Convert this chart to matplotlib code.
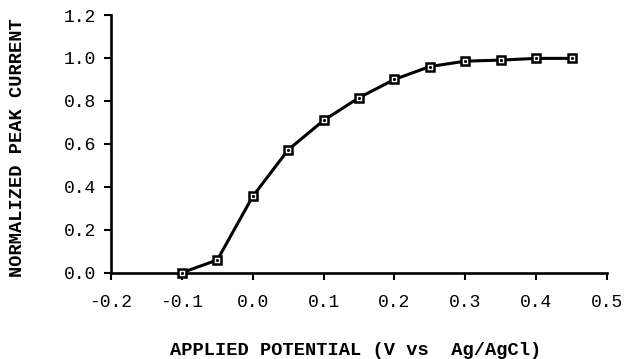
import matplotlib
matplotlib.use("Agg")
import matplotlib.pyplot as plt

potential = [-0.10, -0.05, 0.00, 0.05, 0.10, 0.15, 0.20, 0.25, 0.30, 0.35, 0.40, 0.45]
peak_current = [0.00, 0.059, 0.355, 0.572, 0.709, 0.815, 0.900, 0.960, 0.985, 0.990, 0.998, 0.998]
x_ticks = [-0.2, -0.1, 0.0, 0.1, 0.2, 0.3, 0.4, 0.5]
y_ticks = [0.0, 0.2, 0.4, 0.6, 0.8, 1.0, 1.2]

mono = "Liberation Mono"

fig = plt.figure(figsize=(6.25, 3.59), dpi=100)
ax = fig.add_axes([0.1776, 0.2404, 0.7936, 0.7178])

ax.plot(potential, peak_current, color="black", lw=2.2, marker="s", ms=6.3,
        mfc="white", mec="black", mew=1.8, zorder=3, clip_on=False)
ax.plot(potential, peak_current, ls="none", marker=".", ms=2.5, color="black",
        zorder=4, clip_on=False)

ax.set_xlim(-0.2, 0.5)
ax.set_ylim(0, 1.2)
ax.set_xticks(x_ticks)
ax.set_yticks(y_ticks)
ax.set_xticklabels([f"{t:.1f}" for t in x_ticks], fontfamily=mono, fontsize=13)
ax.set_yticklabels([f"{t:.1f}" for t in y_ticks], fontfamily=mono, fontsize=13)

for s in ["top", "right"]:
    ax.spines[s].set_visible(False)
for s in ["left", "bottom"]:
    ax.spines[s].set_linewidth(1.9)

ax.tick_params(axis="both", direction="out", length=5, width=1.5, pad=6)
ax.tick_params(axis="x", pad=10)

ax.set_xlabel("APPLIED POTENTIAL (V vs  Ag/AgCl)", fontfamily=mono,
              fontweight="bold", fontsize=13.5, va="center")
ax.xaxis.set_label_coords(0.494, -0.303)
ax.set_ylabel("NORMALIZED PEAK CURRENT", fontfamily=mono, fontweight="bold",
              fontsize=13.5, va="center")
ax.yaxis.set_label_coords(-0.1875, 0.486)

fig.savefig("out.png", dpi=100)
